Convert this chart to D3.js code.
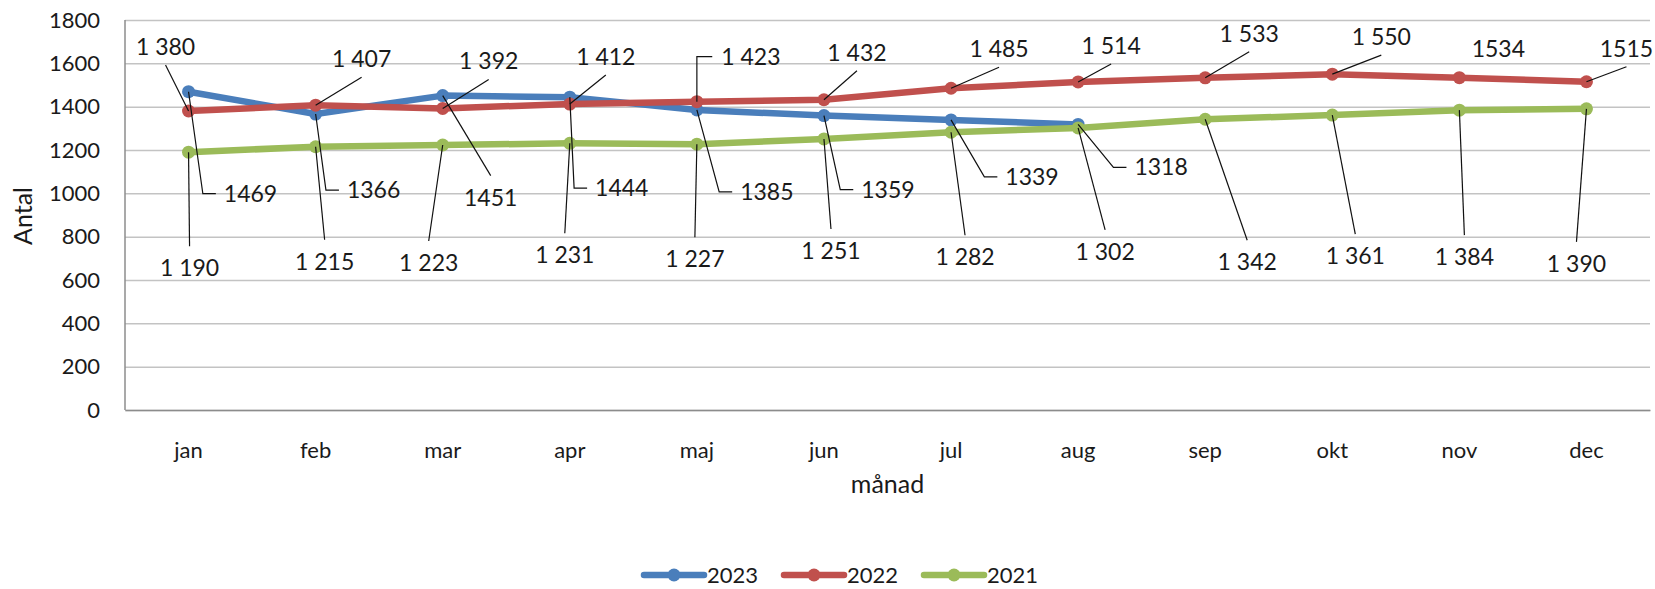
<!DOCTYPE html>
<html>
<head>
<meta charset="utf-8">
<script src="https://cdn.jsdelivr.net/npm/d3@7"></script>
<style>
  body { margin: 0; background: #fff; }
  text { font-family: Lato, "Open Sans", sans-serif; fill: #1a1a1a; }
</style>
</head>
<body>
<div class="mainChart"></div>
<script>
// chart data
const months = ['jan', 'feb', 'mar', 'apr', 'maj', 'jun', 'jul', 'aug', 'sep', 'okt', 'nov', 'dec'];
const values2023 = [1469, 1366, 1451, 1444, 1385, 1359, 1339, 1318];
const values2022 = [1380, 1407, 1392, 1412, 1423, 1432, 1485, 1514, 1533, 1550, 1534, 1515];
const values2021 = [1190, 1215, 1223, 1231, 1227, 1251, 1282, 1302, 1342, 1361, 1384, 1390];
const labels2023 = ['1469', '1366', '1451', '1444', '1385', '1359', '1339', '1318'];
const labels2022 = ['1 380', '1 407', '1 392', '1 412', '1 423', '1 432', '1 485', '1 514', '1 533', '1 550', '1534', '1515'];
const labels2021 = ['1 190', '1 215', '1 223', '1 231', '1 227', '1 251', '1 282', '1 302', '1 342', '1 361', '1 384', '1 390'];
const yTicks = [0, 200, 400, 600, 800, 1000, 1200, 1400, 1600, 1800];

// label placement: offset of the label centre from its point, and leader style
const place2023 = [[62, 102, 'side'], [58, 76, 'side'], [48, 102, 'down'], [52, 91, 'side'],
  [70, 82, 'side'], [64, 74, 'side'], [81, 57, 'side'], [83, 43, 'side']];
const place2022 = [[-23, -64, 'up'], [46, -46, 'up'], [46, -47, 'up'], [36, -47, 'up'],
  [54, -45, 'hook'], [33, -47, 'up'], [48, -39, 'up'], [33, -36, 'up'],
  [44, -44, 'up'], [49, -37, 'up'], [39, -29, 'none'], [40, -33, 'up']];
const place2021 = [[1, 116, 'down'], [9, 115, 'down'], [-14, 118, 'down'], [-5, 112, 'down'],
  [-2, 115, 'down'], [7, 112, 'down'], [14, 125, 'down'], [27, 124, 'down'],
  [42, 143, 'down'], [23, 141, 'down'], [5, 147, 'down'], [-10, 155, 'down']];

const series = [
  { name: '2023', color: '#4a7ebb', values: values2023, labels: labels2023, place: place2023 },
  { name: '2022', color: '#c0504d', values: values2022, labels: labels2022, place: place2022 },
  { name: '2021', color: '#9bbb59', values: values2021, labels: labels2021, place: place2021 }
];

const width = 1655;
const height = 589;
const plotLeft = 125, plotRight = 1650, plotTop = 20, plotBottom = 410;

const svg = d3.select('.mainChart').append('svg')
  .attr('width', width)
  .attr('height', height);

let x = d3.scaleBand().domain(months).range([plotLeft, plotRight]);
let y = d3.scaleLinear().domain([0, 1800]).range([plotBottom, plotTop]);
const cx = m => x(m) + x.bandwidth() / 2;

// gridlines + y axis
let yAxis = d3.axisLeft(y).tickValues(yTicks).tickFormat(d3.format('d'))
  .tickSize(-(plotRight - plotLeft)).tickPadding(25);
let yg = svg.append('g')
  .attr('transform', 'translate(' + plotLeft + ',0)')
  .call(yAxis);
yg.select('.domain').remove();
yg.selectAll('.tick line').attr('stroke', '#c3c3c3').attr('stroke-width', 1.5);
yg.selectAll('.tick text').style('font-size', '22px').attr('fill', '#1a1a1a');

// axis lines
svg.append('line').attr('x1', plotLeft).attr('x2', plotLeft).attr('y1', plotTop).attr('y2', plotBottom)
  .attr('stroke', '#8c8c8c').attr('stroke-width', 1.5);

let xAxis = d3.axisBottom(x).tickSize(0).tickPadding(32);
let xg = svg.append('g')
  .attr('transform', 'translate(0,' + plotBottom + ')')
  .call(xAxis);
xg.select('.domain').attr('stroke', '#8c8c8c').attr('stroke-width', 1.5);
xg.selectAll('.tick text').style('font-size', '22px').attr('fill', '#1a1a1a');

// axis titles
svg.append('text')
  .attr('transform', 'translate(32,216) rotate(-90)')
  .attr('text-anchor', 'middle')
  .style('font-size', '25px')
  .text('Antal');
svg.append('text')
  .attr('x', (plotLeft + plotRight) / 2)
  .attr('y', 493)
  .attr('text-anchor', 'middle')
  .style('font-size', '25px')
  .text('månad');

// series lines and markers
const line = d3.line()
  .x((d, i) => cx(months[i]))
  .y(d => y(d));

series.forEach(s => {
  svg.append('path')
    .datum(s.values)
    .attr('d', line)
    .attr('fill', 'none')
    .attr('stroke', s.color)
    .attr('stroke-width', 6.5)
    .attr('stroke-linejoin', 'round');
  svg.append('g').selectAll('circle')
    .data(s.values)
    .enter().append('circle')
    .attr('cx', (d, i) => cx(months[i]))
    .attr('cy', d => y(d))
    .attr('r', 6.5)
    .attr('fill', s.color);
});

// data labels with leader lines
const leaders = svg.append('g')
  .attr('fill', 'none')
  .attr('stroke', '#111')
  .attr('stroke-width', 1.2);

series.forEach(s => {
  s.values.forEach((v, i) => {
    const px = cx(months[i]);
    const py = y(v);
    const [dx, dy, kind] = s.place[i];
    const tx = px + dx;
    const ty = py + dy;
    const t = svg.append('text')
      .attr('x', tx)
      .attr('y', ty)
      .attr('dy', '0.35em')
      .attr('text-anchor', 'middle')
      .style('font-size', '23px')
      .text(s.labels[i]);
    const tl = tx - t.node().getComputedTextLength() / 2;
    let pts = null;
    if (kind === 'up') pts = [[tx, ty + 18], [px, py]];
    if (kind === 'down') pts = [[tx, ty - 22], [px, py]];
    if (kind === 'side') pts = [[tl - 8, ty], [tl - 21, ty], [px, py]];
    if (kind === 'hook') pts = [[tl - 9, ty], [px, ty], [px, py]];
    if (pts) leaders.append('path').attr('d', d3.line()(pts));
  });
});

// legend
const legend = svg.append('g').attr('transform', 'translate(644,575)');
series.forEach((s, i) => {
  const g = legend.append('g').attr('transform', 'translate(' + (i * 140) + ',0)');
  g.append('line').attr('x1', 0).attr('x2', 60)
    .attr('stroke', s.color).attr('stroke-width', 6.5).attr('stroke-linecap', 'round');
  g.append('circle').attr('cx', 30).attr('r', 6.5).attr('fill', s.color);
  g.append('text').attr('x', 63).attr('dy', '0.35em')
    .style('font-size', '22px').text(s.name);
});
</script>
</body>
</html>
